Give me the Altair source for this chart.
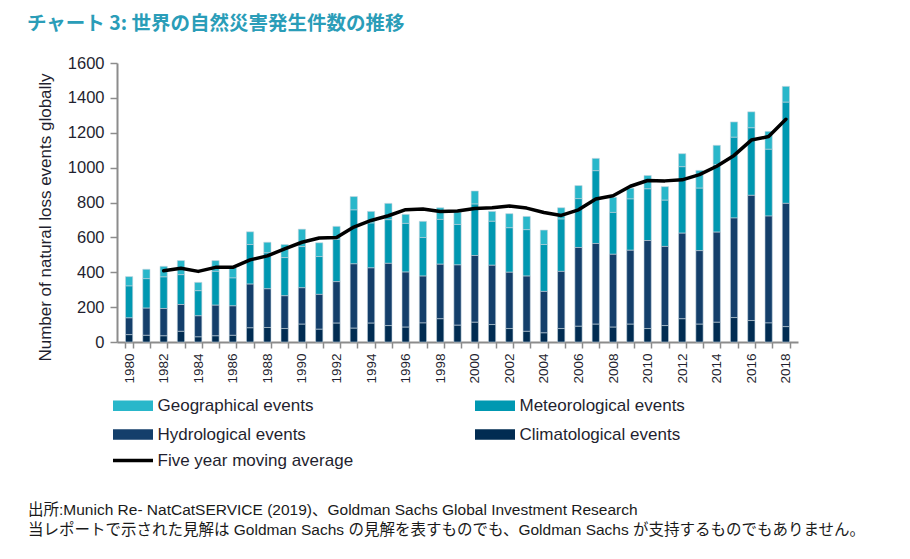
import altair as alt
import pandas as pd

# ---------------- data ----------------
years = list(range(1980, 2019))

climatological = [42, 38, 35, 61, 29, 35, 38, 81, 83, 77, 102, 73, 108, 79, 108,
                  94, 85, 109, 133, 96, 113, 100, 77, 61, 52, 77, 90, 102,
                  85, 102, 77, 94, 133, 102, 113, 140, 123, 109, 88]
hydrological = [96, 156, 157, 154, 121, 176, 169, 251, 222, 188, 209, 200, 238, 369, 317,
                357, 316, 269, 313, 346, 383, 340, 323, 317, 238, 328, 452, 463,
                418, 424, 505, 454, 491, 422, 517, 571, 718, 613, 707]
meteorological = [183, 169, 181, 171, 144, 194, 160, 227, 206, 219, 236, 217, 242, 309, 257,
                  250, 279, 221, 257, 232, 295, 252, 255, 266, 269, 300, 280, 417,
                  240, 294, 296, 265, 381, 358, 388, 463, 387, 383, 580]
geographical = [54, 54, 61, 81, 48, 62, 60, 73, 61, 75, 100, 79, 75, 77, 67,
                94, 52, 93, 67, 71, 75, 57, 81, 76, 83, 65, 75, 71,
                87, 62, 77, 78, 75, 102, 110, 88, 92, 103, 91]

ma_years = list(range(1982, 2019))
moving_avg = [409, 423, 405, 428, 428, 471, 494, 534, 572, 596, 599, 659, 697, 724, 759,
              763, 749, 751, 765, 770, 780, 768, 743, 726, 758, 820, 839, 893, 926, 924,
              930, 960, 1008, 1070, 1158, 1178, 1277]

series_names = ["Geographical events", "Meteorological events",
                "Hydrological events", "Climatological events"]
series_colors = ["#29b7ca", "#0098b1", "#143f6b", "#012c52"]
stack_rank = [3, 2, 1, 0]
line_name = "Five year moving average"

y_ticks = [0, 200, 400, 600, 800, 1000, 1200, 1400, 1600]

title_text = "チャート 3: 世界の自然災害発生件数の推移"
footer_1 = "出所:Munich Re- NatCatSERVICE (2019)、Goldman Sachs Global Investment Research"
footer_2 = "当レポートで示された見解は Goldman Sachs の見解を表すものでも、Goldman Sachs が支持するものでもありません。"

# ---------------- tables ----------------
rows = []
for name, rank, vals in zip(series_names, stack_rank,
                            [geographical, meteorological, hydrological, climatological]):
    for yr, v in zip(years, vals):
        rows.append({"year": yr, "series": name, "value": v, "rank": rank})
bars_df = pd.DataFrame(rows)
line_df = pd.DataFrame({"year": ma_years, "avg": moving_avg, "series": line_name})

AXIS_GREY = "#8c8c8c"
TEXT = "#1f1f2f"

x_scale = alt.Scale(domain=years, paddingInner=0.58, paddingOuter=0.49)
x_axis = alt.Axis(
    title=None, labelAngle=270, labelOverlap=False,
    labelExpr="datum.value % 2 == 0 ? datum.label : ''",
    tickBand="extent", domainColor=AXIS_GREY, domainWidth=2,
    tickColor=AXIS_GREY, tickWidth=1.5, tickSize=6,
    labelFont="Liberation Sans", labelFontSize=13.5, labelColor=TEXT,
    labelPadding=5,
)
y_scale = alt.Scale(domain=[0, 1600], nice=False)
y_axis = alt.Axis(
    title="Number of natural loss events globally", values=y_ticks, grid=False,
    format="d",
    domainColor=AXIS_GREY, domainWidth=2, tickColor=AXIS_GREY, tickWidth=1.5,
    tickSize=7, labelPadding=6, labelFont="Liberation Sans", labelFontSize=16.5,
    labelColor=TEXT, titleFont="Liberation Sans", titleFontSize=17,
    titleFontWeight="normal", titleColor=TEXT, titleAngle=270,
    titleX=-72, titleY=154, titleAlign="center", titleBaseline="middle",
)

bars = alt.Chart(bars_df).mark_bar(stroke="#c5d3de", strokeWidth=0.6).encode(
    x=alt.X("year:O", scale=x_scale, axis=x_axis),
    y=alt.Y("value:Q", stack="zero", scale=y_scale, axis=y_axis),
    fill=alt.Fill(
        "series:N",
        scale=alt.Scale(domain=series_names, range=series_colors),
        legend=alt.Legend(
            title=None, orient="none", legendX=-4, legendY=334, columns=2,
            direction="horizontal",
            columnPadding=161, rowPadding=11, padding=0, labelLimit=400,
            symbolType="M-4,-1.07H4V1.07H-4Z", symbolSize=100,
            symbolStrokeWidth=0, symbolOffset=11.5, labelOffset=16,
            labelFont="Liberation Sans", labelFontSize=17, labelColor=TEXT,
        ),
    ),
    order=alt.Order("rank:Q", sort="ascending"),
)

line = alt.Chart(line_df).mark_line(strokeWidth=3.5, strokeJoin="round", strokeCap="round").encode(
    x=alt.X("year:O", scale=x_scale, axis=x_axis),
    y=alt.Y("avg:Q", scale=y_scale, axis=y_axis),
    stroke=alt.Stroke(
        "series:N",
        scale=alt.Scale(domain=[line_name], range=["#000000"]),
        legend=alt.Legend(
            title=None, orient="none", legendX=-4, legendY=389, padding=0,
            labelLimit=400,
            symbolType="M-4,0H4", symbolSize=100, symbolStrokeWidth=3.5,
            symbolOffset=11.5, labelOffset=16,
            labelFont="Liberation Sans", labelFontSize=17, labelColor=TEXT,
        ),
    ),
)

foot_font = "Liberation Sans, Noto Sans CJK JP"
foot1 = alt.Chart(pd.DataFrame({"t": [footer_1]})).mark_text(
    align="left", baseline="middle", font=foot_font, fontSize=15.5, color="#1a1a1a"
).encode(x=alt.value(-89), y=alt.value(447), text="t:N")
foot2 = alt.Chart(pd.DataFrame({"t": [footer_2]})).mark_text(
    align="left", baseline="middle", font=foot_font, fontSize=15.5, color="#1a1a1a"
).encode(x=alt.value(-89), y=alt.value(467), text="t:N")

chart = alt.layer(bars, line, foot1, foot2).properties(
    width=681, height=279,
    autosize=alt.AutoSizeParams(type="none"),
    padding={"left": 109, "top": 55, "right": 90, "bottom": 200},
    title=alt.TitleParams(
        text=title_text, anchor="start", frame="group", dx=-90, offset=21,
        font="Noto Sans CJK JP", fontSize=19.5, fontWeight="bold", color="#2a9db8",
    ),
).configure_view(stroke=None)

chart.save("out.html", embed_options={"renderer": "svg", "actions": False})
